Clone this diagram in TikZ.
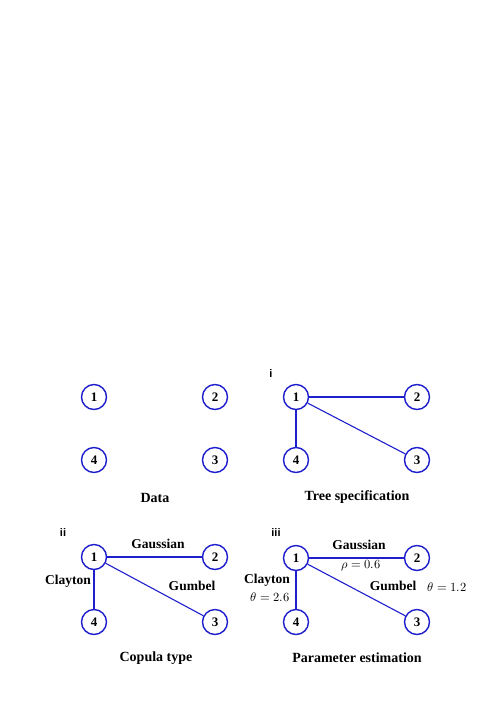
\documentclass[tikz,border=0pt]{standalone}
\usepackage{fontspec}
\setmainfont{Liberation Serif}
\setsansfont{Liberation Sans}
\usepackage{unicode-math}
\setmathfont{Latin Modern Math}
\definecolor{nblue}{RGB}{30,30,205}
\begin{document}
\begin{tikzpicture}[x=1pt,y=-1pt,
  vnode/.style={circle,draw=nblue,line width=1.4pt,minimum size=25pt,inner sep=0pt,font=\bfseries\fontsize{13}{14}\selectfont},
  edge/.style={draw=nblue,line width=1.1pt},
  lbl/.style={font=\bfseries\fontsize{13.5}{15}\selectfont,inner sep=0pt},
  ttl/.style={font=\bfseries\fontsize{14}{16}\selectfont,inner sep=0pt},
  mlbl/.style={font=\fontsize{12.5}{14}\selectfont,inner sep=0pt},
  tag/.style={font=\sffamily\bfseries\fontsize{11}{12}\selectfont,inner sep=0pt}]
\useasboundingbox (0,0) rectangle (498,705);
% Panel 1
\node[vnode] (a1) at (94,397) {1};
\node[vnode] (a2) at (215,397) {2};
\node[vnode] (a4) at (94,460) {4};
\node[vnode] (a3) at (215,460) {3};
\node[ttl] (ta) at (155,498) {Data};
% Panel 2
\node[tag] (ti) at (271,374) {i};
\node[vnode] (b1) at (296,397) {1};
\node[vnode] (b2) at (417,397) {2};
\node[vnode] (b4) at (296,460) {4};
\node[vnode] (b3) at (417,460) {3};
\draw[edge] (b1) -- (b2);
\draw[edge] (b1) -- (b3);
\draw[edge] (b1) -- (b4);
\node[ttl] (tb) at (357,497) {Tree specification};
% Panel 3
\node[tag] (tii) at (63,533) {ii};
\node[vnode] (c1) at (94,557) {1};
\node[vnode] (c2) at (215,557) {2};
\node[vnode] (c4) at (94,622) {4};
\node[vnode] (c3) at (215,622) {3};
\draw[edge] (c1) -- (c2);
\draw[edge] (c1) -- (c3);
\draw[edge] (c1) -- (c4);
\node[lbl] (cg) at (158,544) {Gaussian};
\node[lbl] (cc) at (68,581) {Clayton};
\node[lbl] (cu) at (192,586) {Gumbel};
\node[ttl] (tc) at (156,658) {Copula type};
% Panel 4
\node[tag] (tiii) at (276,533) {iii};
\node[vnode] (d1) at (296,558) {1};
\node[vnode] (d2) at (417,558) {2};
\node[vnode] (d4) at (296,622) {4};
\node[vnode] (d3) at (417,622) {3};
\draw[edge] (d1) -- (d2);
\draw[edge] (d1) -- (d3);
\draw[edge] (d1) -- (d4);
\node[lbl] (dg) at (359,545) {Gaussian};
\node[mlbl] (dr) at (361,566) {$\rho=0.6$};
\node[lbl] (dc) at (267,580) {Clayton};
\node[mlbl] (dct) at (270,597) {$\theta=2.6$};
\node[lbl] (du) at (393,586) {Gumbel};
\node[mlbl] (dut) at (447,587) {$\theta=1.2$};
\node[ttl] (td) at (357,658) {Parameter estimation};
\end{tikzpicture}
\end{document}
